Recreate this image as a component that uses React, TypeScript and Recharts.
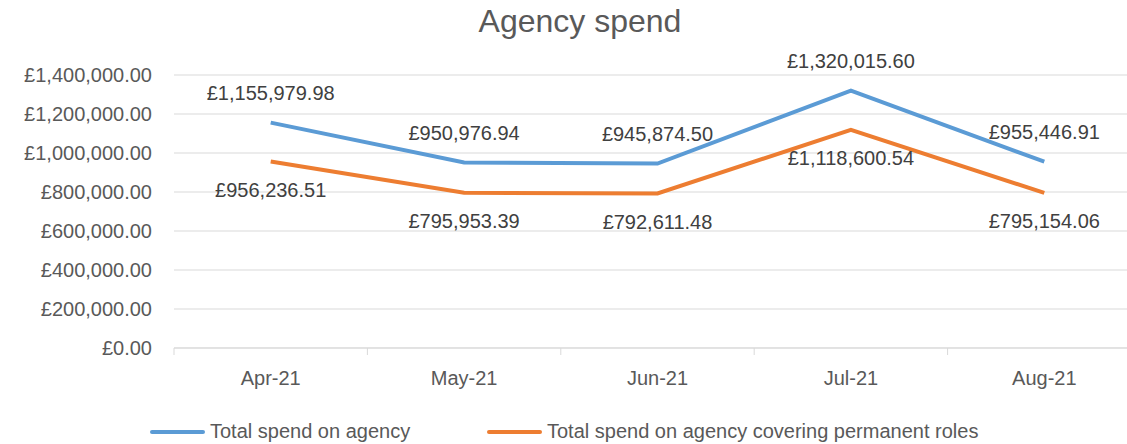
import { LineChart, Line, XAxis, YAxis, CartesianGrid, LabelList } from 'recharts';

const months = ['Apr-21', 'May-21', 'Jun-21', 'Jul-21', 'Aug-21'];
const totalSpend = [1155979.98, 950976.94, 945874.5, 1320015.6, 955446.91];
const permanentSpend = [956236.51, 795953.39, 792611.48, 1118600.54, 795154.06];
const yTicks = [0, 200000, 400000, 600000, 800000, 1000000, 1200000, 1400000];

const FONT = '"Liberation Sans", Arial, sans-serif';
const BLUE = '#5b9bd5';
const ORANGE = '#ed7d31';

const money = (v: number) =>
  '£' + v.toLocaleString('en-GB', { minimumFractionDigits: 2, maximumFractionDigits: 2 });

const data = months.map((m, i) => ({
  month: m,
  total: totalSpend[i],
  permanent: permanentSpend[i],
}));

// chart geometry: plot runs from 174 to 1141, five categories
const PLOT_LEFT = 174;
const PLOT_RIGHT = 1141;
const BAND = (PLOT_RIGHT - PLOT_LEFT) / months.length;

function MonthTick(props: any) {
  const { x, y, payload } = props;
  const left = x - BAND / 2;
  return (
    <g>
      <line x1={left} y1={y} x2={left} y2={y + 7} stroke="#d9d9d9" strokeWidth={1} />
      <text x={x} y={y + 37} textAnchor="middle" fill="#595959" fontSize={20} fontFamily={FONT}>
        {payload.value}
      </text>
    </g>
  );
}

function LegendItem({ color, label, left }: { color: string; label: string; left: number }) {
  return (
    <div style={{ position: 'absolute', left, top: 420, display: 'flex', alignItems: 'center' }}>
      <div style={{ width: 55, height: 4, borderRadius: 2, background: color, marginRight: 5 }} />
      <span style={{ fontSize: 20, color: '#595959', fontFamily: FONT }}>{label}</span>
    </div>
  );
}

export default function App() {
  return (
    <div
      style={{
        position: 'absolute',
        left: 0,
        top: 0,
        width: 1127,
        height: 444,
        overflow: 'hidden',
        background: '#fff',
      }}
    >
      <div
        style={{
          position: 'absolute',
          left: 0,
          top: 3,
          width: 1160,
          textAlign: 'center',
          fontSize: 32,
          color: '#595959',
          fontFamily: FONT,
        }}
      >
        Agency spend
      </div>
      <LineChart
        width={PLOT_RIGHT + 4}
        height={444}
        data={data}
        margin={{ top: 75, right: 4, left: 0, bottom: 56 }}
      >
        <CartesianGrid vertical={false} stroke="#d9d9d9" />
        <XAxis
          dataKey="month"
          height={40}
          padding={{ left: BAND / 2, right: BAND / 2 }}
          axisLine={{ stroke: '#d9d9d9' }}
          tickLine={false}
          tickSize={0}
          tickMargin={0}
          tick={<MonthTick />}
          interval={0}
        />
        <YAxis
          width={PLOT_LEFT}
          domain={[0, 1400000]}
          ticks={yTicks}
          axisLine={false}
          tickLine={false}
          tickSize={0}
          tickMargin={22}
          tickFormatter={money}
          tick={{ fill: '#595959', fontSize: 20, fontFamily: FONT }}
        />
        <Line
          dataKey="total"
          name="Total spend on agency"
          stroke={BLUE}
          strokeWidth={4}
          dot={false}
          isAnimationActive={false}
        >
          <LabelList
            dataKey="total"
            position="top"
            offset={23}
            formatter={(v: any) => money(Number(v))}
            style={{ fill: '#404040', fontSize: 20, fontFamily: FONT }}
          />
        </Line>
        <Line
          dataKey="permanent"
          name="Total spend on agency covering permanent roles"
          stroke={ORANGE}
          strokeWidth={4}
          dot={false}
          isAnimationActive={false}
        >
          <LabelList
            dataKey="permanent"
            position="bottom"
            offset={21}
            formatter={(v: any) => money(Number(v))}
            style={{ fill: '#404040', fontSize: 20, fontFamily: FONT }}
          />
        </Line>
      </LineChart>
      <LegendItem color={BLUE} label="Total spend on agency" left={150} />
      <LegendItem color={ORANGE} label="Total spend on agency covering permanent roles" left={487} />
    </div>
  );
}
